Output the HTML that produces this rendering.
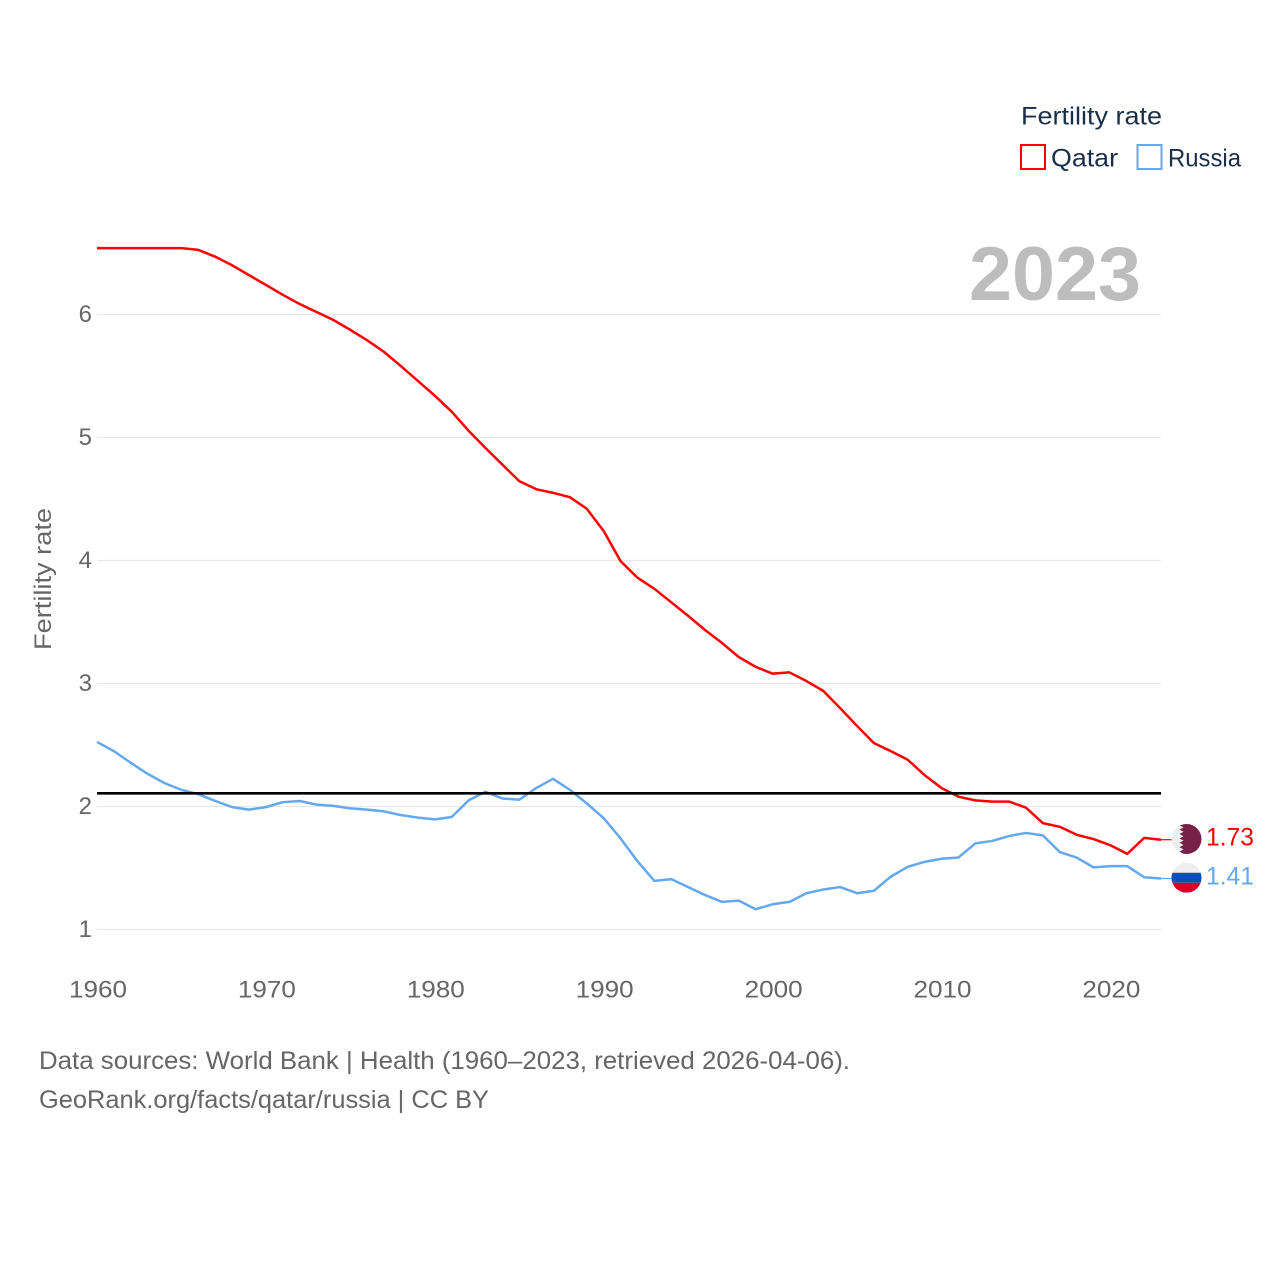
<!DOCTYPE html>
<html lang="en">
<head>
<meta charset="utf-8">
<title>Fertility rate: Qatar and Russia</title>
<style>
html,body{margin:0;padding:0;background:#fff;}
svg{display:block;font-family:"Liberation Sans",sans-serif;}
</style>
</head>
<body>
<svg id="chart" xmlns="http://www.w3.org/2000/svg" width="1280" height="1280" viewBox="0 0 1280 1280">
  <defs>
    <clipPath id="flag-clip"><circle cx="0" cy="0" r="15"/></clipPath>
  </defs>
  <rect x="0" y="0" width="1280" height="1280" fill="#fff"/>
  <g id="grid"></g>
  <g id="y-ticks"></g>
  <g id="x-ticks"></g>
  <text transform="translate(51,650) rotate(-90)" font-size="24" fill="#666" textLength="142" lengthAdjust="spacingAndGlyphs">Fertility rate</text>
  <text x="969" y="300" font-size="76" font-weight="bold" fill="#bdbdbd" textLength="172" lengthAdjust="spacingAndGlyphs">2023</text>
  <g id="series"></g>
  <g id="ends"></g>
  <g>
    <text x="1021" y="124.5" font-size="25" fill="#1a2e4a" textLength="141" lengthAdjust="spacingAndGlyphs">Fertility rate</text>
    <rect x="1021" y="145" width="24" height="24" fill="#fff" stroke="#ff0000" stroke-width="2"/>
    <text x="1051" y="166.5" font-size="25" fill="#1a2e4a" textLength="67" lengthAdjust="spacingAndGlyphs">Qatar</text>
    <rect x="1137.5" y="145" width="24" height="24" fill="#fff" stroke="#64a8ef" stroke-width="2"/>
    <text x="1168" y="166.5" font-size="25" fill="#1a2e4a" textLength="73" lengthAdjust="spacingAndGlyphs">Russia</text>
  </g>
  <text x="39" y="1069" font-size="25" fill="#666" textLength="811" lengthAdjust="spacingAndGlyphs">Data sources: World Bank | Health (1960–2023, retrieved 2026-04-06).</text>
  <text x="39" y="1108" font-size="25" fill="#666" textLength="450" lengthAdjust="spacingAndGlyphs">GeoRank.org/facts/qatar/russia | CC BY</text>
</svg>
<script>
const startYear = 1960;
const xTickLabels = [1960, 1970, 1980, 1990, 2000, 2010, 2020];
const yTickLabels = [1, 2, 3, 4, 5, 6];
const replacementRate = [2.107];
const qatarValues = [
  6.54, 6.54, 6.54, 6.54, 6.54, 6.54, 6.525, 6.47, 6.40, 6.32,
  6.24, 6.16, 6.085, 6.02, 5.955, 5.875, 5.79, 5.695, 5.58, 5.46,
  5.34, 5.21, 5.055, 4.915, 4.78, 4.645, 4.58, 4.55, 4.515, 4.42,
  4.24, 3.995, 3.86, 3.77, 3.66, 3.55, 3.435, 3.33, 3.215, 3.135,
  3.08, 3.09, 3.02, 2.94, 2.80, 2.655, 2.515, 2.45, 2.38, 2.255,
  2.15, 2.08, 2.05, 2.04, 2.04, 1.99, 1.865, 1.835, 1.77, 1.735,
  1.685, 1.615, 1.745, 1.73
];
const russiaValues = [
  2.525, 2.45, 2.355, 2.265, 2.19, 2.135, 2.10, 2.045, 1.995, 1.975,
  1.995, 2.035, 2.045, 2.015, 2.005, 1.985, 1.975, 1.96, 1.93, 1.91,
  1.895, 1.915, 2.05, 2.12, 2.065, 2.055, 2.15, 2.225, 2.135, 2.025,
  1.905, 1.74, 1.555, 1.395, 1.41, 1.345, 1.28, 1.225, 1.235, 1.165,
  1.205, 1.225, 1.295, 1.325, 1.345, 1.295, 1.315, 1.43, 1.51, 1.55,
  1.575, 1.585, 1.70, 1.72, 1.76, 1.785, 1.765, 1.63, 1.585, 1.505,
  1.515, 1.515, 1.425, 1.415
];
const qatarLabel = ["1.73"];
const russiaLabel = ["1.41"];

const NS = 'http://www.w3.org/2000/svg';
const xScale = function (year) { return 97 + (year - 1960) * 16.89; };
const yScale = function (v) { return 929.5 - (v - 1) * 123; };
const plotRight = xScale(2023);

function make(tag, attrs, parent) {
  const el = document.createElementNS(NS, tag);
  for (const k in attrs) el.setAttribute(k, attrs[k]);
  parent.appendChild(el);
  return el;
}

const gridG = document.getElementById('grid');
const yTicksG = document.getElementById('y-ticks');
const xTicksG = document.getElementById('x-ticks');
const seriesG = document.getElementById('series');
const endsG = document.getElementById('ends');

yTickLabels.forEach(function (t) {
  const line = make('line', {x1: 97, x2: plotRight, y1: yScale(t), y2: yScale(t), stroke: '#e8e8e8', 'stroke-width': 1.2}, gridG);
  
  
  const label = make('text', {x: 92, y: yScale(t) + 7.5, 'text-anchor': 'end', 'font-size': 24, fill: '#666'}, yTicksG);
  
  
  label.textContent = t;
});

xTickLabels.forEach(function (t) {
  const label = make('text', {x: xScale(t) + 1, y: 997.5, 'text-anchor': 'middle', 'font-size': 24, fill: '#666', textLength: 58, lengthAdjust: 'spacingAndGlyphs'}, xTicksG);
  
  
  label.textContent = t;
});

function linePoints(values) {
  return values.map(function (v, i) {
    return xScale(startYear + i).toFixed(2) + ',' + yScale(v).toFixed(2);
  }).join(' ');
}

const qatarLine = make('polyline', {points: linePoints(qatarValues), fill: 'none', stroke: '#ff0000', 'stroke-width': 2.5, 'stroke-linejoin': 'round'}, seriesG);



const russiaLine = make('polyline', {points: linePoints(russiaValues), fill: 'none', stroke: '#64a8ef', 'stroke-width': 2.5, 'stroke-linejoin': 'round'}, seriesG);



const refLine = make('line', {x1: 97, x2: plotRight, y1: yScale(replacementRate[0]), y2: yScale(replacementRate[0]), stroke: '#000', 'stroke-width': 2.6}, seriesG);



function endMarker(values, color, text, drawFlag, markerName) {
  const last = values[values.length - 1];
  const y = yScale(last);
  const conn = make('line', {x1: plotRight, x2: 1173, y1: y, y2: y, stroke: color, 'stroke-width': 1.2}, endsG);
  
  
  const flag = make('g', {transform: 'translate(1186.5,' + (y - 0.7).toFixed(2) + ')', 'clip-path': 'url(#flag-clip)'}, endsG);
  
  
  drawFlag(flag);
  const label = make('text', {x: 1206, y: y + 6, 'font-size': 25, fill: color, textLength: 48, lengthAdjust: 'spacingAndGlyphs'}, endsG);
  
  
  label.textContent = text;
}

endMarker(qatarValues, '#ff0000', qatarLabel[0], function (g) {
  make('rect', {x: -15, y: -15, width: 30, height: 30, fill: '#eeeeee'}, g);
  make('polygon', {
    fill: '#76204a',
    points: '15,-16 -3,-16 -7,-13.8 -3,-11.6 -7,-9.4 -3,-7.2 -7,-5 -3,-2.8 -7,-0.6 -3,1.6 -7,3.8 -3,6 -7,8.2 -3,10.4 -7,12.6 -3,14.8 -5,16 15,16'
  }, g);
}, 'qatar');

endMarker(russiaValues, '#64a8ef', russiaLabel[0], function (g) {
  make('rect', {x: -15, y: -15, width: 30, height: 10, fill: '#eeeeee'}, g);
  make('rect', {x: -15, y: -5, width: 30, height: 10, fill: '#0a4fb5'}, g);
  make('rect', {x: -15, y: 5, width: 30, height: 10, fill: '#d8002b'}, g);
}, 'russia');
</script>
</body>
</html>
